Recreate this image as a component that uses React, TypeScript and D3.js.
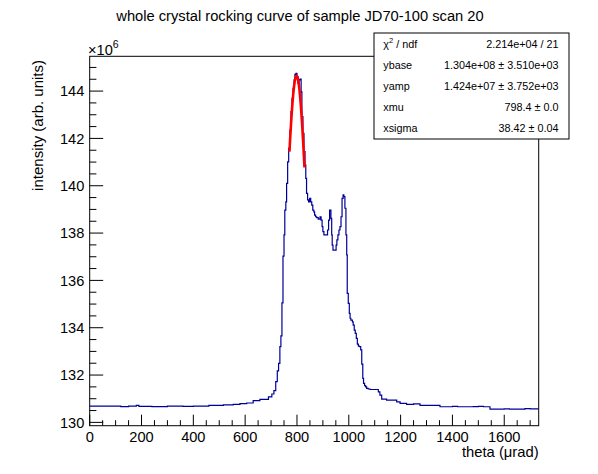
import React from 'react';
import * as d3 from 'd3';

// histogram step edges (µrad) and bin contents (×10^6)
const thetaEdges = [
  0, 120, 150, 180, 190, 240, 300, 360, 400, 460, 516, 554, 580, 606, 631, 657, 690, 703, 711, 718,
  724, 729, 734, 738, 742, 746, 750, 753, 757, 760, 764, 768, 773, 777, 781, 785, 789, 792, 796, 800,
  804, 808, 812, 816, 819, 823, 827, 831, 834, 837, 841, 845, 849, 853, 857, 861, 865, 868, 872, 876,
  882, 889, 893, 897, 900, 904, 911, 915, 918, 922, 926, 931, 934, 936, 939, 951, 954, 958, 962, 966,
  970, 974, 978, 981, 985, 989, 992, 994, 998, 1002, 1005, 1008, 1014, 1017, 1021, 1025, 1029, 1033, 1037, 1041,
  1046, 1050, 1054, 1057, 1061, 1065, 1069, 1075, 1082, 1114, 1120, 1127, 1146, 1185, 1198, 1223, 1250, 1275, 1352, 1400,
  1420, 1480, 1500, 1520, 1545, 1600, 1620, 1680, 1700,
];
const intensity = [
  130.69, 130.67, 130.69, 130.72, 130.68, 130.67, 130.69, 130.68, 130.69, 130.72, 130.74, 130.76, 130.79, 130.82, 130.92, 130.97, 131.08, 131.2, 131.34, 131.72,
  132.18, 132.49, 133.2, 133.66, 135.05, 137.03, 137.92, 138.97, 139.32, 140.1, 141.01, 141.58, 142.35, 143.13, 143.69, 144.12, 144.47, 144.71, 144.75, 144.61,
  144.33, 144.47, 144.51, 143.97, 142.92, 142.21, 141.44, 140.87, 140.31, 139.68, 139.4, 139.32, 139.47, 139.32, 139.18, 138.97, 138.9, 138.76, 138.69, 138.65,
  138.59, 138.69, 138.55, 138.27, 138.06, 137.92, 137.92, 137.92, 138.13, 138.55, 138.97, 138.62, 137.92, 137.49, 137.28, 137.49, 137.71, 137.92, 138.13, 138.27,
  138.69, 139.47, 139.61, 139.54, 139.05, 137.92, 137.08, 135.45, 135.03, 134.61, 134.4, 134.32, 134.25, 134.11, 133.9, 133.76, 133.55, 133.31, 133.22, 133.2,
  133.06, 132.46, 131.86, 131.65, 131.55, 131.5, 131.44, 131.41, 131.39, 131.29, 131.15, 130.98, 130.94, 130.87, 130.8, 130.76, 130.78, 130.72, 130.66, 130.68,
  130.66, 130.67, 130.68, 130.66, 130.56, 130.57, 130.56, 130.58, 130.57,
];
const thetaMax = 1733;

// gaussian fit result
const fitBase = 130.4;
const fitAmp = 14.24;
const fitMu = 798.4;
const fitSigma = 38.42;
const fitRange = [771, 829];

const xMajorTicks = [0, 200, 400, 600, 800, 1000, 1200, 1400, 1600];
const yMajorTicks = [130, 132, 134, 136, 138, 140, 142, 144];

const statLabels = ['ybase', 'yamp', 'xmu', 'xsigma'];
const statValues = ['1.304e+08 \u00b1 3.510e+03', '1.424e+07 \u00b1 3.752e+03', '798.4 \u00b1 0.0', '38.42 \u00b1 0.04'];
const chi2Text = '2.214e+04 / 21';

const W = 598;
const H = 474;
const frame = { left: 89.7, right: 538.7, top: 56.3, bottom: 425.7 };
const font = "'Liberation Sans', Arial, Helvetica, sans-serif";

const App: React.FC = () => {
  const x = d3.scaleLinear().domain([0, thetaMax]).range([frame.left, frame.right]);
  const y = d3.scaleLinear().domain([129.86, 145.47]).range([frame.bottom, frame.top]);

  const histPts: [number, number][] = thetaEdges.map((t, i) => [t, intensity[i]]);
  histPts.push([thetaMax, intensity[intensity.length - 1]]);
  const histLine = d3.line<[number, number]>()
    .x(d => x(d[0]))
    .y(d => y(d[1]))
    .curve(d3.curveStepAfter);

  const gauss = (t: number) => fitBase + fitAmp * Math.exp(-0.5 * ((t - fitMu) / fitSigma) ** 2);
  const fitPts: [number, number][] = d3.range(fitRange[0], fitRange[1] + 0.01, 0.5).map(t => [t, gauss(t)]);
  const fitLine = d3.line<[number, number]>().x(d => x(d[0])).y(d => y(d[1]));

  const xMinor = d3.range(0, thetaMax, 50).filter(v => v % 200 !== 0);
  const yMinor = d3.range(130, 145.5, 0.5).filter(v => v % 2 !== 0);

  const box = { left: 374, right: 569, top: 33, bottom: 139 };
  const rowH = (box.bottom - box.top) / 5;

  return (
    <svg width={W} height={H} style={{ position: 'absolute', left: 0, top: 0, background: '#fff' }} fontFamily={font}>
      <rect x={0} y={0} width={W} height={H} fill="#fff" />
      <text x={300} y={21} textAnchor="middle" fontSize={14.7}>
        whole crystal rocking curve of sample JD70-100 scan 20
      </text>

      {/* frame */}
      <rect x={frame.left} y={frame.top} width={frame.right - frame.left} height={frame.bottom - frame.top}
        fill="none" stroke="#000" strokeWidth={1} />

      {/* x axis ticks */}
      {xMajorTicks.map(v => (
        <g key={'xm' + v}>
          <line x1={x(v)} x2={x(v)} y1={frame.bottom} y2={frame.bottom - 11} stroke="#000" />
          <text x={x(v)} y={441.7} textAnchor="middle" fontSize={14.6}>{v}</text>
        </g>
      ))}
      {xMinor.map(v => (
        <line key={'xn' + v} x1={x(v)} x2={x(v)} y1={frame.bottom} y2={frame.bottom - 5.5} stroke="#000" />
      ))}
      <text x={frame.right} y={457} textAnchor="end" fontSize={14.8}>{'theta (\u03bcrad)'}</text>

      {/* y axis ticks */}
      {yMajorTicks.map(v => (
        <g key={'ym' + v}>
          <line x1={frame.left} x2={frame.left + 13.5} y1={y(v)} y2={y(v)} stroke="#000" />
          <text x={84.3} y={y(v) + 5.2} textAnchor="end" fontSize={14.6}>{v}</text>
        </g>
      ))}
      {yMinor.map(v => (
        <line key={'yn' + v} x1={frame.left} x2={frame.left + 6.7} y1={y(v)} y2={y(v)} stroke="#000" />
      ))}
      <text x={88} y={55} fontSize={14.6}>
        {'\u00d710'}
        <tspan fontSize={10.5} dy={-7}>6</tspan>
      </text>
      <text transform="translate(42.5,60) rotate(-90)" textAnchor="end" fontSize={15}>
        intensity (arb. units)
      </text>

      {/* data */}
      <path d={histLine(histPts) ?? ''} fill="none" stroke="#000099" strokeWidth={1.2} />
      <path d={fitLine(fitPts) ?? ''} fill="none" stroke="#ff0000" strokeWidth={2.6} />

      {/* stats box */}
      <rect x={box.left} y={box.top} width={box.right - box.left} height={box.bottom - box.top}
        fill="#fff" stroke="#000" strokeWidth={1} />
      <text x={383.3} y={box.top + rowH * 0.5 + 4} fontSize={10.8}>
        {'\u03c7'}
        <tspan fontSize={7.5} dy={-5}>2</tspan>
        <tspan dy={5}>{' / ndf'}</tspan>
      </text>
      <text x={558.5} y={box.top + rowH * 0.5 + 4} textAnchor="end" fontSize={10.8}>{chi2Text}</text>
      {statLabels.map((lab, i) => (
        <g key={lab}>
          <text x={383.3} y={box.top + rowH * (i + 1.5) + 3.8} fontSize={10.8}>{lab}</text>
          <text x={558.5} y={box.top + rowH * (i + 1.5) + 3.8} textAnchor="end" fontSize={10.8}>{statValues[i]}</text>
        </g>
      ))}
    </svg>
  );
};

export default App;
